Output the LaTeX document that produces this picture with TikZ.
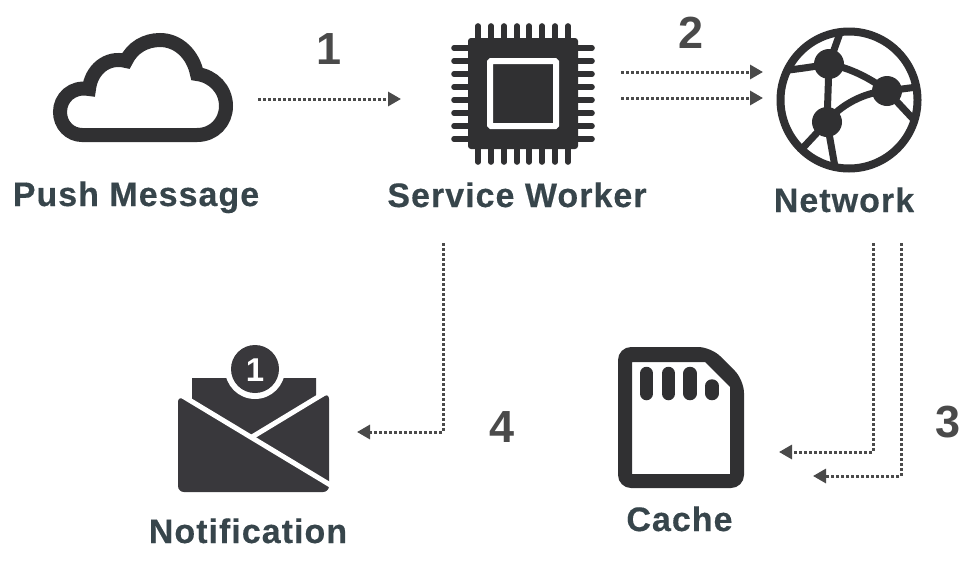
\documentclass[tikz,border=0pt]{standalone}
\usepackage{fontspec}
\setmainfont{Liberation Sans}
\newfontfamily\lblfont[LetterSpace=3.0,BoldFeatures={FakeBold=0.35}]{Liberation Sans}
\usetikzlibrary{arrows.meta}
\definecolor{icon}{HTML}{303032}
\definecolor{envc}{HTML}{39383C}
\definecolor{lab}{HTML}{37454B}
\definecolor{num}{HTML}{4A4A4A}
\tikzset{
  x=1pt,y=-1pt,
  lbl/.style={anchor=base,inner sep=0pt,text=lab,font=\lblfont\fontsize{34}{38}\selectfont\bfseries},
  numlbl/.style={anchor=base,inner sep=0pt,text=num,font=\fontsize{45}{48}\selectfont\bfseries},
  flow/.style={draw=num,line width=3pt,dash pattern=on 2.8pt off 2.2pt,-{Triangle[length=13pt,width=14pt,fill=num]}},
  pin/.style={icon,line width=5.6pt,line cap=round},
  gline/.style={draw=icon,line width=7pt},
}
\begin{document}
\begin{tikzpicture}
\useasboundingbox[fill=white] (0,0) rectangle (979,568);
% cloud
\draw[icon,line width=14pt,miter limit=10]
  (82,135) -- (197,135) .. controls (214,135) and (226,122) .. (226,106)
  .. controls (226,89) and (213,76) .. (197,74)
  .. controls (193,54) and (178,40) .. (160,40)
  .. controls (145,40) and (132,48) .. (126,61)
  .. controls (107,56) and (91,70) .. (89,89)
  .. controls (72,86) and (60,98) .. (60,112)
  .. controls (60,125) and (70,135) .. (82,135) -- cycle;
% chip
\fill[icon,rounded corners=3pt] (468,38) rectangle (578,149);
\foreach \px in {478,491,504,517,529,542,555,568}{
  \draw[pin] (\px,26) -- (\px,40);
  \draw[pin] (\px,147) -- (\px,162);
}
\foreach \py in {48,61,74,87,100,113,126,139}{
  \draw[pin] (454,\py) -- (470,\py);
  \draw[pin] (576,\py) -- (592,\py);
}
\draw[white,line width=6pt,rounded corners=1pt] (490,61) rectangle (556,126);
% globe
\draw[icon,line width=8pt] (849,100) circle (68.5);
\coordinate (ga) at (829,64);
\coordinate (gb) at (887,91);
\coordinate (gc) at (827,122);
\draw[gline] (840,33) -- (ga);
\draw[gline] (789,70) .. controls (805,68) and (818,66) .. (ga);
\draw[gline] (ga) .. controls (850,68) and (870,78) .. (gb);
\draw[gline] (gc) .. controls (840,105) and (865,92) .. (gb);
\draw[gline] (ga) -- (gc);
\draw[gline] (gb) -- (917,87);
\draw[gline] (gb) -- (915,121);
\draw[gline] (gc) -- (800,151);
\draw[gline] (gc) -- (835,167);
\fill[icon] (ga) circle (15) (gb) circle (15) (gc) circle (15);
% envelope
\fill[envc] (192,378) -- (316,378) -- (316,405) -- (255,442) -- (192,405) -- cycle;
\fill[envc,rounded corners=6pt] (178,396) -- (255,438) -- (329,393) -- (329,492) -- (178,492) -- cycle;
\draw[white,line width=5pt] (176,392) -- (332,486);
\draw[white,line width=5pt] (252,437) -- (328,391);
\fill[white] (255,369) circle (30);
\fill[envc] (255,369) circle (24);
\node[anchor=base,inner sep=0pt,text=white,font=\fontsize{33}{36}\selectfont\bfseries] (badge) at (255,381) {1};
% sd card
\fill[icon,even odd rule]
  [rounded corners=13pt] (618,347) -- (711,347) -- (744,380) -- (744,488) -- (618,488) -- cycle
  [sharp corners] (632,362) -- (705,362) -- (730,387) -- (730,474) -- (632,474) -- cycle;
\foreach \cx/\cy in {646.5/373.5,668.5/373.5,690/373.5,712/386}{
  \draw[icon,line width=13.5pt,line cap=round] (\cx,\cy) -- (\cx,393.5);
}
% labels
\node[lbl] (push) at (136,206) {Push Message};
\node[lbl] (sw) at (517,207) {Service Worker};
\node[lbl] (net) at (844,212) {Network};
\node[lbl] (notif) at (248,543) {Notification};
\node[lbl] (cache) at (679.5,531) {Cache};
\node[numlbl] (n1) at (329,64) {1};
\node[numlbl] (n2) at (691,48) {2};
\node[numlbl] (n3) at (948,437) {3};
\node[numlbl] (n4) at (502,442) {4};
% connector ends
\coordinate (a1s) at (258,99);   \coordinate (a1e) at (401,99);
\coordinate (a2s) at (621,72);   \coordinate (a2e) at (763,72);
\coordinate (a3s) at (621,98);   \coordinate (a3e) at (763,98);
\coordinate (a4s) at (443,243);  \coordinate (a4e) at (357,432);
\coordinate (a5s) at (873,243);  \coordinate (a5e) at (779,452);
\coordinate (a6s) at (901,243);  \coordinate (a6e) at (813,476);
\draw[flow] (a1s) -- (a1e);
\draw[flow] (a2s) -- (a2e);
\draw[flow] (a3s) -- (a3e);
\draw[flow] (a4s) |- (a4e);
\draw[flow] (a5s) |- (a5e);
\draw[flow] (a6s) |- (a6e);
\end{tikzpicture}
\end{document}
